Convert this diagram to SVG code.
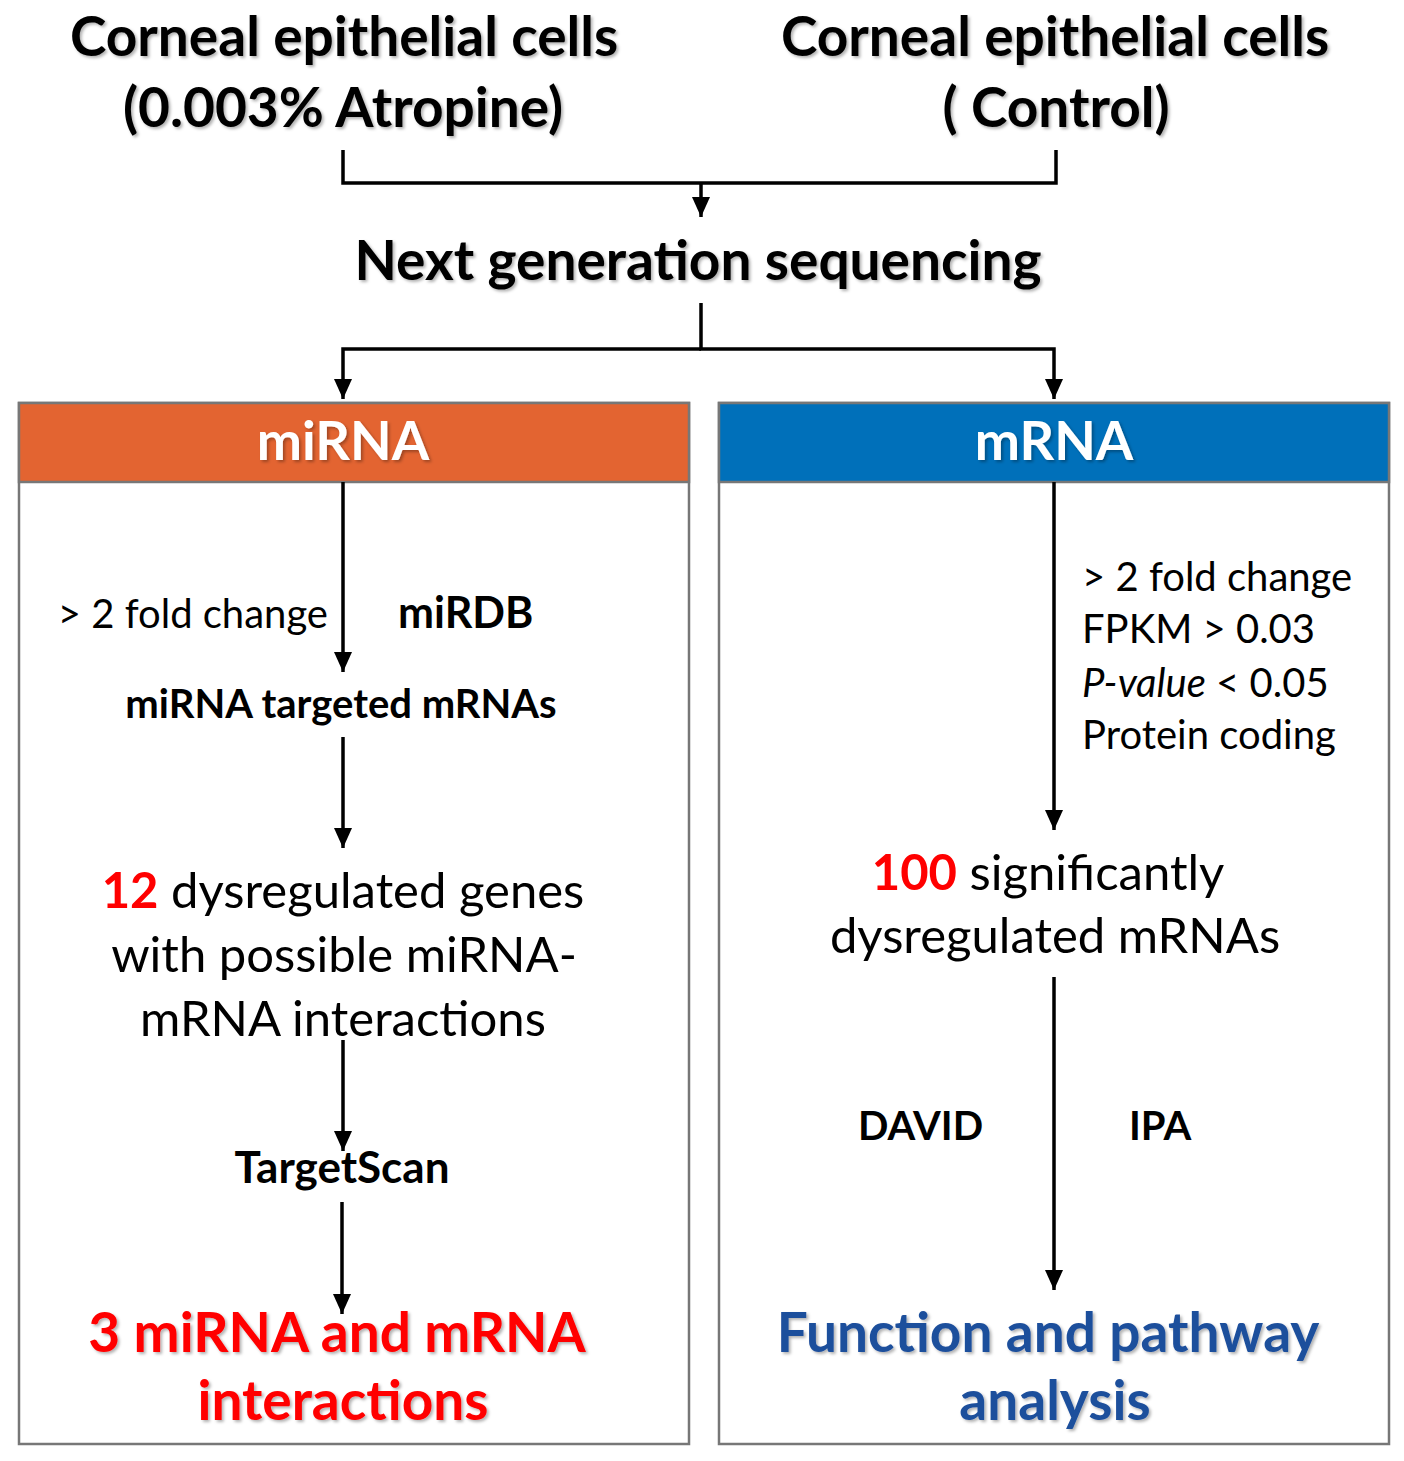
<svg xmlns="http://www.w3.org/2000/svg" width="1404" height="1461" viewBox="0 0 1404 1461">
<style>
text{font-family:Lato,"Open Sans","Liberation Sans",sans-serif;fill:#000}
.b{font-weight:bold}
.t{font-size:55px;font-weight:bold;filter:url(#sh)}
.h{font-size:54px;font-weight:bold;fill:#fff;filter:url(#sh)}
.n{font-size:40px}
.m{font-size:49px}
.r{fill:#ff0000}
.big{font-size:55px;font-weight:bold;filter:url(#sh)}
.blue{fill:#1f4f9c}
.c{text-anchor:middle}
.ln{fill:none;stroke:#000;stroke-width:3.5}
.box{fill:#fff;stroke:#777;stroke-width:2.5}
</style>
<defs>
<marker id="ah" markerUnits="userSpaceOnUse" markerWidth="20" markerHeight="18" refX="20" refY="9" orient="auto" viewBox="0 0 20 18">
<path d="M0,0 L20,9 L0,18 Z" fill="#000"/>
</marker>
<filter id="sh" x="-5%" y="-10%" width="110%" height="130%">
<feDropShadow dx="2" dy="2" stdDeviation="1.5" flood-color="#000" flood-opacity="0.3"/>
</filter>
</defs>
<rect width="1404" height="1461" fill="#fff"/>

<g id="src-atropine">
<text class="t c" x="344" y="56">Corneal epithelial cells</text>
<text class="t c" x="343" y="127">(0.003% Atropine)</text>
</g>
<g id="src-control">
<text class="t c" x="1055" y="56">Corneal epithelial cells</text>
<text class="t c" x="1056" y="127">( Control)</text>
</g>
<g id="ngs">
<text class="t c" x="698" y="280">Next generation sequencing</text>
</g>

<g id="mirna-panel">
<rect class="box" x="19" y="403" width="670" height="1041"/>
<rect x="19" y="403" width="670" height="79" fill="#e36431" stroke="#777" stroke-width="2.5"/>
<text class="h c" x="343" y="460">miRNA</text>
</g>
<g id="mrna-panel">
<rect class="box" x="719" y="403" width="670" height="1041"/>
<rect x="719" y="403" width="670" height="79" fill="#0070ba" stroke="#777" stroke-width="2.5"/>
<text class="h c" x="1054" y="460">mRNA</text>
</g>

<g id="mirna-labels">
<text class="n" x="328" y="628" text-anchor="end">&gt; 2 fold change</text>
<text class="b" x="398" y="628" font-size="43">miRDB</text>
</g>
<g id="mirna-targeted">
<text class="b c" x="341" y="718" font-size="40">miRNA targeted mRNAs</text>
</g>
<g id="dysreg-genes">
<text class="m c" x="343" y="908"><tspan class="b r">12</tspan> dysregulated genes</text>
<text class="m c" x="344" y="972">with possible miRNA-</text>
<text class="m c" x="343" y="1036">mRNA interactions</text>
</g>
<g id="targetscan">
<text class="b c" x="342" y="1183" font-size="44">TargetScan</text>
</g>
<g id="interactions-result">
<text class="big r c" x="337" y="1352">3 miRNA and mRNA</text>
<text class="big r c" x="343" y="1420">interactions</text>
</g>

<g id="mrna-criteria">
<text class="n" x="1082" y="591">&gt; 2 fold change</text>
<text class="n" x="1082" y="643">FPKM &gt; 0.03</text>
<text class="n" x="1082" y="697"><tspan font-style="italic">P-value</tspan> &lt; 0.05</text>
<text class="n" x="1082" y="749">Protein coding</text>
</g>
<g id="dysreg-mrnas">
<text class="m c" x="1048" y="890"><tspan class="b r">100</tspan> significantly</text>
<text class="m c" x="1055" y="953">dysregulated mRNAs</text>
</g>
<g id="tools">
<text class="b" x="858" y="1140" font-size="40">DAVID</text>
<text class="b" x="1129" y="1140" font-size="40">IPA</text>
</g>
<g id="pathway-result">
<text class="big blue c" x="1048" y="1352">Function and pathway</text>
<text class="big blue c" x="1055" y="1420">analysis</text>
</g>

<g id="connectors">
<path class="ln" d="M343,150 V183 H1056 V150"/>
<path class="ln" d="M701,183 V217" marker-end="url(#ah)"/>
<path class="ln" d="M701,303 V349 H1054 V399" marker-end="url(#ah)"/>
<path class="ln" d="M701,349 H343 V399" marker-end="url(#ah)"/>
<path class="ln" d="M343,482 V672" marker-end="url(#ah)"/>
<path class="ln" d="M343,737 V848" marker-end="url(#ah)"/>
<path class="ln" d="M343,1040 V1151" marker-end="url(#ah)"/>
<path class="ln" d="M342,1202 V1314" marker-end="url(#ah)"/>
<path class="ln" d="M1054,482 V830" marker-end="url(#ah)"/>
<path class="ln" d="M1054,977 V1290" marker-end="url(#ah)"/>
</g>
</svg>
